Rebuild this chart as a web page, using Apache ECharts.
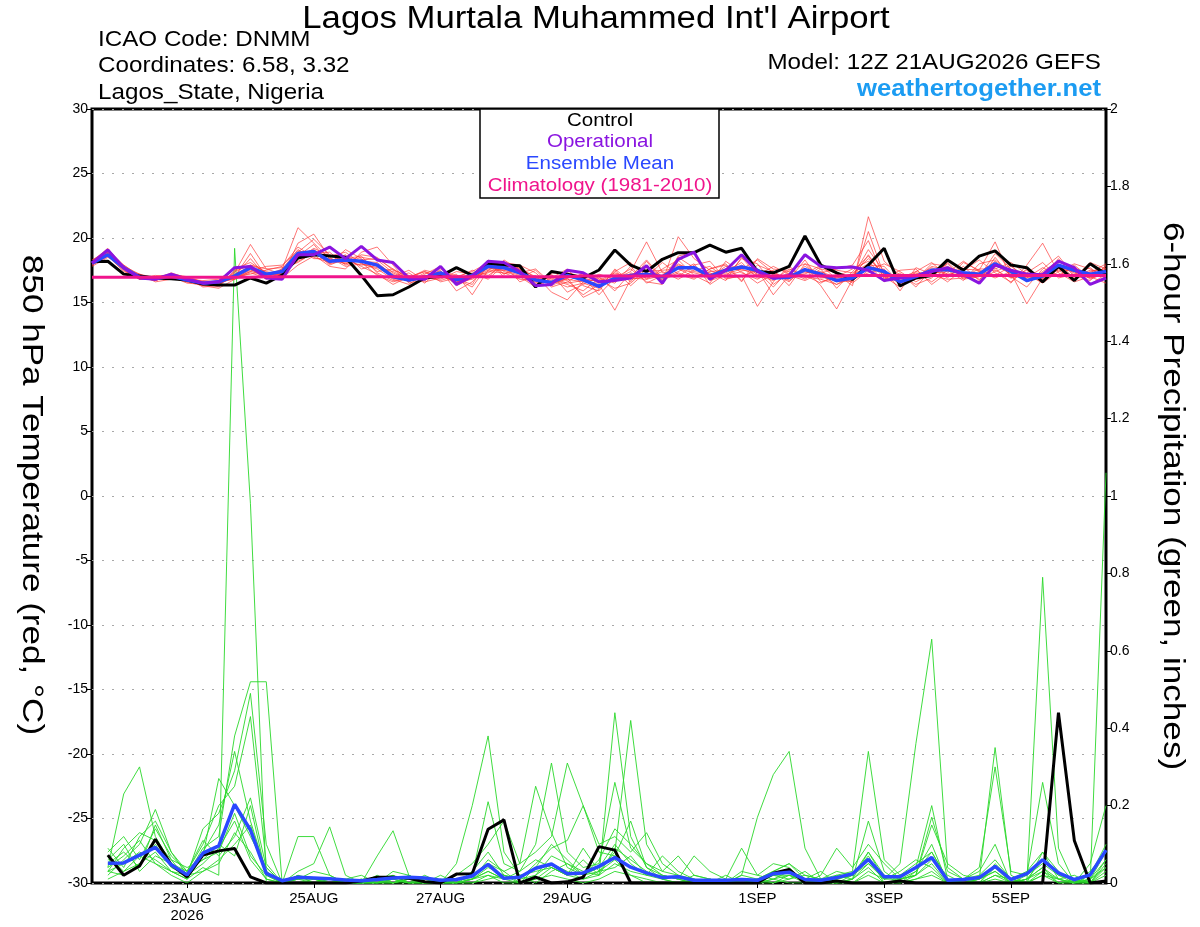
<!DOCTYPE html>
<html><head><meta charset="utf-8">
<script src="https://cdn.jsdelivr.net/npm/echarts@6/dist/echarts.min.js"></script>
<style>html,body{margin:0;padding:0;background:#fff}#c{width:1200px;height:927px}</style>
</head><body><div id="c"></div>
<script>
// x index = 6-hour steps from 12Z 21AUG2026 (0) to 12Z 6SEP2026 (64)
const xTickIdx = [6, 14, 22, 30, 42, 50, 58];
const xTickLabels = ['23AUG\n2026', '25AUG', '27AUG', '29AUG', '1SEP', '3SEP', '5SEP'];

// 850 hPa temperature (°C)
const tempControl = [18.16,18.2,17.2,17.05,16.9,16.85,16.74,16.43,16.35,16.35,
 16.9,16.5,17.13,18.45,18.7,18.6,18.5,17.1,15.53,15.6,
 16.2,16.9,17.05,17.7,17.1,18.0,17.9,17.85,16.2,17.4,
 17.2,16.9,17.52,19.07,17.9,17.4,18.35,18.86,18.86,19.45,
 18.9,19.2,17.4,17.3,17.8,20.15,17.9,17.3,16.8,17.9,
 19.2,16.28,16.9,17.1,18.3,17.5,18.6,19.0,17.9,17.7,
 16.6,17.8,16.7,18.0,17.2];
const tempOperational = [18.05,19.07,17.7,16.9,16.8,17.2,16.8,16.5,16.6,17.7,
 17.8,16.9,16.8,18.7,18.7,19.3,18.4,19.35,18.3,18.1,
 16.9,16.8,17.8,16.4,17.05,18.2,18.1,17.4,16.3,16.4,
 17.5,17.3,16.6,16.7,16.9,17.85,16.5,18.35,18.9,16.8,
 17.5,18.7,17.4,16.9,17.1,18.7,17.8,17.7,17.75,17.5,
 16.7,16.9,17.05,17.4,17.7,17.15,16.5,17.9,17.5,17.2,
 17.15,18.2,17.7,16.4,16.9];
const tempMean = [18.05,18.7,17.7,16.95,16.85,17.05,16.75,16.5,16.6,17.05,
 17.7,17.2,17.4,18.8,18.95,18.2,18.3,18.2,17.9,17.0,
 16.75,16.95,17.3,16.75,17.1,17.8,17.7,17.3,16.75,16.55,
 17.1,16.75,16.25,16.9,17.1,17.2,17.0,17.7,17.7,17.05,
 17.5,17.75,17.5,16.9,16.95,17.55,17.2,16.7,16.9,17.7,
 17.4,16.6,17.0,17.5,17.55,17.3,17.2,18.0,17.4,16.7,
 17.05,17.9,17.5,17.2,17.4];
const tempClimatology = [16.95,16.95,16.95,16.95,16.95,16.95,16.95,16.95,16.95,16.95,
 16.95,17.0,17.0,17.0,17.0,17.0,17.0,17.0,17.0,17.0,
 17.0,17.0,17.0,17.0,17.0,17.0,17.0,17.0,17.0,17.0,
 17.0,17.05,17.05,17.05,17.05,17.05,17.05,17.05,17.05,17.05,
 17.05,17.05,17.05,17.05,17.05,17.05,17.05,17.05,17.1,17.1,
 17.1,17.1,17.1,17.1,17.1,17.1,17.1,17.1,17.1,17.1,
 17.1,17.1,17.1,17.1,17.1];
const tempMember1 = [18.2,19.1,17.9,17.1,16.8,17.3,16.9,16.6, 16.4,17.3,19.5,17.6,17.2,18.4,19.2,18.6, 18.9,18.0,17.6,16.8,16.4,17.2,17.8,16.3, 16.9,18.2,17.4,17.0,16.2,16.9,17.6,16.3, 15.9,17.4,18.1,16.8,17.6,18.3,17.1,16.5, 18.2,17.3,16.8,17.5,16.3,18.0,17.6,16.1, 17.4,18.6,17.0,16.2,17.4,18.1,17.0,17.8, 16.7,18.5,17.0,16.2,17.6,18.6,17.1,16.7, 17.9];
const tempMember2 = [17.9,18.6,17.5,16.8,17.0,16.9,16.6,16.3, 16.1,16.8,17.3,16.9,17.6,20.8,19.6,18.4, 18.0,18.7,18.5,17.5,17.1,16.6,16.9,17.2, 15.6,17.5,18.1,17.9,17.3,16.2,16.6,17.3, 16.8,16.1,16.5,17.6,16.6,20.1,18.4,17.5, 17.0,18.4,18.0,16.4,17.3,17.1,16.5,17.2, 16.3,21.65,18.2,17.1,16.4,16.9,18.1,17.0, 17.6,17.6,18.1,17.2,16.5,17.4,18.0,17.6, 16.9];
const tempMember3 = [18.1,18.9,17.6,17.0,16.7,17.1,16.8,16.7, 16.8,17.6,18.1,17.3,16.9,17.9,18.6,19.3, 18.4,17.8,17.2,16.4,17.0,17.4,16.6,16.9, 17.5,17.1,17.9,16.6,17.1,15.8,15.2,16.6, 17.2,16.8,17.4,19.7,17.3,17.0,17.9,18.2, 16.8,17.1,14.7,16.6,17.8,16.9,17.8,17.5, 17.3,18.0,16.6,17.3,16.2,17.6,16.9,18.1, 17.5,19.7,16.9,17.5,16.8,18.0,16.9,18.1, 17.6];
const tempMember4 = [17.8,18.5,17.8,16.9,17.1,17.0,16.5,16.4, 16.6,16.9,17.4,17.8,17.9,19.0,18.7,17.8, 17.6,18.9,19.3,17.9,16.5,16.8,17.5,15.9, 16.6,18.0,17.2,17.8,16.5,17.1,16.7,15.6, 16.4,14.4,16.8,17.0,18.1,17.2,16.8,17.6, 18.0,16.7,17.9,17.4,16.7,17.6,16.3,14.5, 16.8,17.3,17.6,15.9,17.7,17.2,18.0,16.8, 17.0,17.7,16.5,17.9,19.6,17.3,16.6,17.0, 16.5];
const tempMember5 = [18.3,19.0,17.7,16.8,16.9,17.2,17.0,16.6, 16.5,17.1,18.4,17.0,17.5,18.6,19.5,18.0, 19.1,18.4,17.4,17.6,16.9,17.0,16.8,17.4, 17.2,16.9,18.3,17.5,16.8,16.5,17.3,17.0, 15.6,16.9,17.6,16.6,16.4,18.6,18.9,16.8, 17.4,18.1,16.9,17.1,17.0,17.2,17.9,16.8, 16.6,20.5,17.1,16.8,17.3,16.6,17.5,16.7, 18.0,18.3,17.3,14.9,16.9,17.8,17.4,16.4, 17.2];
const tempMember6 = [18.0,18.8,17.6,17.2,16.6,16.8,16.9,16.2, 16.3,17.4,17.9,17.4,17.1,18.9,19.9,18.7, 18.2,17.9,18.0,17.2,16.6,17.3,17.1,16.6, 16.8,17.7,17.5,17.1,16.4,16.7,16.2,16.5, 16.1,17.5,16.3,17.4,17.5,17.6,17.3,17.0, 17.8,17.5,17.4,16.2,17.5,18.0,16.9,17.0, 17.6,18.2,16.9,16.7,17.0,17.7,17.2,17.4, 16.8,17.4,17.9,16.6,17.4,18.2,17.6,17.3, 18.0];
const tempMember7 = [18.1,18.7,17.9,17.0,17.0,17.2,16.7,16.5, 16.7,16.8,17.6,16.8,17.3,18.2,18.8,18.9, 17.9,18.3,17.8,16.9,17.3,16.5,17.6,17.0, 17.4,18.1,17.0,16.9,17.5,16.3,16.9,17.2, 16.6,17.2,17.0,18.3,16.9,17.4,18.0,16.4, 17.2,17.6,18.3,17.3,16.6,17.8,17.1,16.4, 17.1,17.9,17.8,16.5,16.8,18.0,17.8,16.9, 17.3,18.2,17.1,16.9,17.7,17.1,17.8,16.8, 17.3];
const tempMember8 = [17.9,18.6,17.4,16.9,16.8,17.0,16.6,16.6, 16.4,17.0,17.2,17.5,17.8,19.3,18.5,18.1, 18.6,18.1,17.1,16.6,16.9,17.5,17.2,16.4, 17.0,17.3,18.0,17.6,17.0,16.8,16.4,15.9, 16.9,16.5,17.8,16.5,17.1,17.9,17.6,17.3, 16.7,18.5,17.1,17.8,17.2,17.3,17.4,16.9, 17.0,19.1,17.4,16.9,17.2,17.4,16.6,17.6, 17.5,17.1,17.8,17.0,16.9,18.4,17.0,17.5, 17.4];
const tempMember9 = [18.2,19.0,17.8,16.9,16.9,16.9,16.8,16.4, 16.6,17.2,17.8,17.1,17.4,18.7,19.1,18.3, 18.1,18.5,18.3,17.3,16.7,16.9,17.3,16.8, 16.2,17.9,17.6,17.2,16.6,16.6,17.0,16.8, 16.3,17.0,16.9,17.3,17.0,18.0,17.4,17.2, 17.6,17.8,17.6,17.0,16.9,17.5,17.0,16.7, 16.9,17.6,17.3,16.4,16.9,17.8,17.5,17.1, 17.2,18.0,17.5,16.6,17.2,17.7,17.5,17.1, 17.3];
const tempMember10 = [18.0,18.8,17.7,17.1,16.7,17.1,16.7,16.5, 16.5,16.9,17.5,17.2,17.2,18.5,18.9,18.0, 18.3,18.2,18.1,17.1,16.8,17.1,17.0,16.7, 17.1,17.6,17.8,17.4,16.9,16.5,16.8,16.6, 16.5,16.7,17.2,17.1,16.8,17.7,17.8,16.9, 17.3,17.9,17.2,16.8,17.1,17.4,17.2,16.6, 16.7,17.8,17.5,16.6,17.1,17.5,17.6,17.3, 17.1,17.9,17.2,16.9,17.0,17.9,17.3,17.2, 17.1];
const tempMember11 = [17.9,18.9,17.5,16.8,16.9,17.0,16.8,16.3, 16.7,17.1,17.7,17.3,17.0,19.6,20.3,18.5, 17.8,18.0,17.7,17.4,16.8,17.0,16.7,17.1, 16.9,17.4,17.3,16.8,16.7,17.2,15.8,16.4, 17.0,15.9,17.3,16.9,17.4,16.8,17.5,17.8, 16.9,17.0,17.5,15.6,17.1,16.7,17.3,17.6, 17.9,19.8,16.8,17.5,17.6,16.4,17.3,18.2, 17.4,16.9,17.4,17.3,18.1,16.9,17.2,17.7, 16.8];
const tempMember12 = [18.1,18.7,17.8,17.2,16.9,16.8,16.9,16.6, 16.2,17.5,17.9,17.6,17.7,18.1,18.9,18.2, 18.7,17.6,17.9,17.0,17.5,16.7,17.4,16.5, 17.3,16.8,17.9,17.3,17.6,16.5,16.9,15.4, 16.0,17.6,16.6,18.2,16.7,17.3,16.9,17.6, 17.9,16.6,18.4,17.6,17.4,16.8,17.6,17.3, 16.5,17.5,18.0,17.4,16.6,17.3,17.4,17.5, 18.3,17.3,16.6,17.6,17.0,17.5,16.8,17.4, 17.6];
const tempMember13 = [18.0,18.8,17.6,16.9,16.7,17.2,16.6,16.5, 16.5,17.0,18.8,17.0,17.3,18.8,19.0,17.9, 18.4,18.6,17.3,16.7,16.9,17.4,17.0,16.8, 16.4,18.3,17.2,17.6,16.3,17.3,17.2,16.9, 16.6,16.9,17.1,17.5,16.9,18.5,17.7,16.7, 17.1,17.4,16.5,17.2,16.8,18.3,16.6,16.9, 17.2,18.4,17.2,16.9,17.4,17.1,16.8,16.9, 17.0,18.8,17.6,16.7,17.3,17.0,17.9,16.9, 17.8];
const tempMember14 = [18.2,19.2,17.7,17.0,16.8,17.1,16.9,16.4, 16.6,16.8,17.4,17.1,17.6,19.1,18.4,18.4, 18.0,18.3,18.4,17.6,16.6,17.1,17.1,16.6, 17.0,17.5,17.5,17.7,16.9,16.9,16.5,16.7, 16.7,17.3,16.9,16.8,17.1,17.6,17.0,17.4, 17.5,17.6,17.1,16.7,17.6,17.0,16.8,16.4, 16.9,18.7,17.0,16.7,16.9,17.6,17.1,17.0, 17.4,17.5,16.9,17.1,16.6,17.6,17.4,16.9, 17.2];

// 6-hour precipitation (inches); index 0 has no accumulation
const precipControl = [null,0.072,0.02,0.044,0.113,0.047,0.016,0.072,0.083,0.089,
 0.016,0,0,0,0,0,0,0.005,0.015,0.015,
 0.012,0.003,0,0.023,0.024,0.139,0.163,0,0.015,0,
 0.003,0.015,0.094,0.085,0,0,0,0,0,0,
 0,0,0,0.025,0.035,0,0,0.005,0,0,
 0,0.005,0,0,0,0,0,0,0,0,
 0,0.44,0.11,0,0.005];
const precipMean = [null,0.051,0.052,0.072,0.092,0.047,0.021,0.077,0.096,0.203,
 0.137,0.025,0.006,0.015,0.013,0.011,0.008,0.006,0.009,0.013,
 0.015,0.013,0.007,0.009,0.018,0.048,0.012,0.015,0.038,0.049,
 0.024,0.026,0.043,0.066,0.041,0.026,0.014,0.016,0.007,0.007,
 0.007,0.009,0.007,0.024,0.028,0.009,0.007,0.014,0.024,0.061,
 0.016,0.016,0.040,0.066,0.007,0.009,0.014,0.043,0.009,0.024,
 0.060,0.026,0.009,0.021,0.085];
const precipMember1 = [null,0.03,0.05,0.08,0.06,0.03,0.01,0.04, 0.02,1.64,0.98,0.00,0.00,0.01,0.00,0.00, 0.00,0.00,0.01,0.02,0.00,0.00,0.00,0.01, 0.02,0.05,0.03,0.00,0.01,0.04,0.02,0.01, 0.03,0.06,0.02,0.01,0.00,0.00,0.01,0.00, 0.00,0.02,0.01,0.03,0.05,0.01,0.00,0.01, 0.02,0.06,0.01,0.02,0.05,0.08,0.01,0.00, 0.01,0.04,0.00,0.02,0.05,0.02,0.00,0.03, 0.08];
const precipMember2 = [null,0.07,0.03,0.05,0.10,0.04,0.02,0.09, 0.12,0.38,0.52,0.52,0.00,0.02,0.01,0.00, 0.00,0.01,0.00,0.03,0.02,0.00,0.01,0.00, 0.03,0.08,0.02,0.00,0.04,0.10,0.06,0.02, 0.04,0.10,0.05,0.02,0.01,0.00,0.00,0.01, 0.00,0.01,0.00,0.02,0.03,0.00,0.01,0.02, 0.01,0.08,0.02,0.01,0.03,0.10,0.00,0.01, 0.02,0.06,0.01,0.03,0.08,0.01,0.00,0.02, 0.10];
const precipMember3 = [null,0.04,0.23,0.30,0.12,0.05,0.02,0.14, 0.18,0.29,0.49,0.10,0.00,0.00,0.00,0.01, 0.00,0.00,0.02,0.00,0.01,0.01,0.00,0.00, 0.01,0.03,0.01,0.00,0.02,0.05,0.03,0.01, 0.02,0.44,0.12,0.04,0.02,0.01,0.00,0.00, 0.00,0.00,0.01,0.02,0.02,0.01,0.00,0.00, 0.01,0.16,0.03,0.00,0.02,0.05,0.00,0.00, 0.01,0.03,0.00,0.01,0.04,0.01,0.00,0.01, 0.06];
const precipMember4 = [null,0.02,0.06,0.10,0.19,0.08,0.03,0.10, 0.20,0.25,0.43,0.05,0.00,0.02,0.00,0.00, 0.00,0.00,0.00,0.01,0.00,0.02,0.00,0.05, 0.20,0.38,0.08,0.02,0.00,0.03,0.05,0.02, 0.03,0.08,0.42,0.10,0.03,0.02,0.00,0.01, 0.00,0.02,0.17,0.28,0.34,0.09,0.01,0.00, 0.02,0.05,0.01,0.03,0.06,0.04,0.00,0.01, 0.03,0.10,0.00,0.01,0.06,0.02,0.01,0.00, 0.05];
const precipMember5 = [null,0.05,0.08,0.04,0.15,0.06,0.01,0.07, 0.27,0.20,0.12,0.04,0.00,0.12,0.12,0.02, 0.00,0.00,0.07,0.135,0.02,0.00,0.00,0.00, 0.02,0.21,0.05,0.03,0.10,0.31,0.08,0.04, 0.05,0.26,0.09,0.05,0.02,0.01,0.07,0.03, 0.01,0.09,0.02,0.01,0.03,0.00,0.00,0.02, 0.03,0.34,0.06,0.02,0.04,0.20,0.01,0.00, 0.00,0.05,0.01,0.00,0.79,0.09,0.00,0.01, 0.08];
const precipMember6 = [null,0.01,0.03,0.07,0.05,0.02,0.00,0.03, 0.06,0.10,0.15,0.03,0.00,0.03,0.05,0.145, 0.02,0.00,0.00,0.01,0.00,0.00,0.01,0.00, 0.01,0.06,0.03,0.05,0.08,0.12,0.31,0.20, 0.10,0.12,0.08,0.13,0.05,0.02,0.01,0.00, 0.01,0.00,0.00,0.01,0.02,0.00,0.00,0.01, 0.02,0.08,0.01,0.05,0.36,0.63,0.04,0.01, 0.00,0.02,0.01,0.00,0.03,0.01,0.02,0.00, 0.04];
const precipMember7 = [null,0.03,0.02,0.05,0.08,0.03,0.02,0.05, 0.09,0.16,0.06,0.01,0.00,0.00,0.01,0.00, 0.01,0.02,0.00,0.00,0.01,0.00,0.00,0.02, 0.05,0.10,0.16,0.05,0.25,0.13,0.04,0.02, 0.06,0.14,0.10,0.05,0.03,0.07,0.02,0.01, 0.00,0.03,0.02,0.05,0.04,0.00,0.02,0.09, 0.04,0.10,0.05,0.01,0.02,0.15,0.05,0.02, 0.01,0.35,0.02,0.00,0.08,0.03,0.00,0.00, 1.06];
const precipMember8 = [null,0.06,0.10,0.03,0.07,0.05,0.03,0.06, 0.10,0.07,0.20,0.02,0.00,0.00,0.00,0.01, 0.00,0.00,0.00,0.02,0.00,0.00,0.00,0.01, 0.01,0.04,0.02,0.01,0.05,0.09,0.11,0.20, 0.08,0.07,0.16,0.04,0.01,0.00,0.02,0.01, 0.00,0.00,0.01,0.03,0.05,0.02,0.01,0.03, 0.02,0.07,0.00,0.01,0.02,0.17,0.03,0.01, 0.04,0.30,0.03,0.02,0.26,0.05,0.00,0.05, 0.20];
const precipMember9 = [null,0.09,0.04,0.12,0.16,0.08,0.02,0.03, 0.05,0.13,0.08,0.01,0.00,0.01,0.03,0.02, 0.00,0.00,0.01,0.00,0.00,0.01,0.00,0.00, 0.00,0.02,0.00,0.00,0.01,0.02,0.01,0.00, 0.01,0.03,0.02,0.00,0.00,0.00,0.00,0.00, 0.00,0.00,0.00,0.01,0.00,0.00,0.00,0.00, 0.00,0.02,0.00,0.00,0.01,0.02,0.00,0.00, 0.00,0.01,0.00,0.00,0.02,0.00,0.00,0.00, 0.02];
const precipMember10 = [null,0.04,0.07,0.11,0.05,0.03,0.01,0.08, 0.15,0.34,0.16,0.03,0.00,0.00,0.00,0.00, 0.00,0.01,0.00,0.00,0.02,0.00,0.00,0.00, 0.01,0.03,0.01,0.02,0.03,0.04,0.02,0.06, 0.02,0.05,0.03,0.02,0.07,0.03,0.01,0.00, 0.00,0.01,0.00,0.00,0.01,0.03,0.00,0.00, 0.01,0.04,0.00,0.00,0.01,0.03,0.00,0.00, 0.00,0.02,0.00,0.01,0.03,0.00,0.00,0.01, 0.04];
const precipMember11 = [null,0.08,0.12,0.06,0.14,0.07,0.03,0.11, 0.07,0.12,0.22,0.04,0.00,0.01,0.01,0.00, 0.00,0.00,0.00,0.00,0.01,0.00,0.00,0.00, 0.00,0.01,0.02,0.01,0.02,0.07,0.05,0.03, 0.02,0.09,0.06,0.03,0.01,0.02,0.00,0.00, 0.00,0.01,0.00,0.02,0.01,0.02,0.01,0.00, 0.01,0.05,0.02,0.00,0.03,0.08,0.01,0.00, 0.00,0.04,0.01,0.00,0.02,0.01,0.00,0.00, 0.06];
const precipMember12 = [null,0.03,0.09,0.13,0.11,0.06,0.04,0.06, 0.08,0.18,0.07,0.02,0.00,0.00,0.00,0.00, 0.01,0.00,0.00,0.01,0.00,0.00,0.02,0.00, 0.01,0.02,0.01,0.03,0.06,0.04,0.02,0.09, 0.03,0.04,0.07,0.02,0.02,0.01,0.00,0.00, 0.02,0.00,0.01,0.00,0.02,0.01,0.03,0.00, 0.00,0.03,0.01,0.01,0.02,0.06,0.02,0.00, 0.01,0.03,0.00,0.01,0.04,0.00,0.01,0.00, 0.03];

const tempMembers = [tempMember1,tempMember2,tempMember3,tempMember4,tempMember5,tempMember6,tempMember7,
  tempMember8,tempMember9,tempMember10,tempMember11,tempMember12,tempMember13,tempMember14];
const precipMembers = [precipMember1,precipMember2,precipMember3,precipMember4,precipMember5,precipMember6,
  precipMember7,precipMember8,precipMember9,precipMember10,precipMember11,precipMember12];

const FONT = '"Liberation Sans", Arial, Helvetica, sans-serif';
const C_CONTROL = '#000000', C_OPER = '#8a14e0', C_MEAN = '#2a48ff', C_CLIM = '#f0148c';
const C_MEMBER_T = 'rgba(255,50,50,0.75)', C_MEMBER_P = '#2ad82a';

function pts(arr) { return arr.map((v, i) => [i, v]).filter(p => p[1] !== null); }
function line(name, arr, yIdx, color, width, z) {
  return { name, type: 'line', yAxisIndex: yIdx, data: pts(arr), symbol: 'none', showSymbol: false,
    lineStyle: { color, width }, itemStyle: { color }, z, silent: true, animation: false,
    emphasis: { disabled: true } };
}

const series = [];
precipMembers.forEach((m, k) => series.push(line('precip member ' + (k + 1), m, 1, C_MEMBER_P, 0.9, 2)));
tempMembers.forEach((m, k) => series.push(line('temp member ' + (k + 1), m, 0, C_MEMBER_T, 0.9, 2)));
series.push(line('Control precip', precipControl, 1, C_CONTROL, 3, 5));
series.push(line('Ensemble Mean precip', precipMean, 1, C_MEAN, 3.5, 6));
series.push(line('Control', tempControl, 0, C_CONTROL, 3, 5));
series.push(line('Ensemble Mean', tempMean, 0, C_MEAN, 3.5, 6));
series.push(line('Operational', tempOperational, 0, C_OPER, 3, 7));
series.push(line('Climatology (1981-2010)', tempClimatology, 0, C_CLIM, 3, 8));

function txt(text, x, y, size, opts) {
  opts = opts || {};
  return { type: 'text', x, y, z: 120, rotation: opts.rotation || 0, scaleX: opts.scaleX || 1,
    style: { text, fontSize: size, fontFamily: FONT, fontWeight: opts.bold ? 'bold' : 'normal',
      fill: opts.color || '#000', align: opts.align || 'left', verticalAlign: 'middle' } };
}

const option = {
  animation: false,
  backgroundColor: '#ffffff',
  grid: { left: 92, right: 94, top: 109, bottom: 44, show: true, borderColor: '#000', borderWidth: 3,
    backgroundColor: 'transparent', containLabel: false, outerBoundsMode: 'none' },
  xAxis: {
    type: 'value', min: 0, max: 64, position: 'bottom',
    axisLine: { show: false, onZero: false }, splitLine: { show: false },
    axisTick: { show: true, customValues: xTickIdx, length: 5, lineStyle: { color: '#000', width: 1 } },
    axisLabel: { customValues: xTickIdx, formatter: v => xTickLabels[xTickIdx.indexOf(v)],
      color: '#000', fontSize: 15, fontFamily: FONT, margin: 7, lineHeight: 17 }
  },
  yAxis: [
    { type: 'value', min: -30, max: 30, interval: 5, position: 'left',
      axisLine: { show: false, onZero: false },
      axisTick: { show: true, length: 6, lineStyle: { color: '#000', width: 1 } },
      axisLabel: { color: '#000', fontSize: 14, fontFamily: FONT, margin: 4 },
      splitLine: { show: true, lineStyle: { color: '#a8a8a8', width: 1.2, type: [2, 8] } } },
    { type: 'value', min: 0, max: 2, interval: 0.2, position: 'right',
      axisLine: { show: false, onZero: false },
      axisTick: { show: true, length: 5, lineStyle: { color: '#000', width: 1 } },
      axisLabel: { color: '#000', fontSize: 14, fontFamily: FONT, margin: 4 },
      splitLine: { show: false } }
  ],
  series,
  graphic: [
    txt("Lagos Murtala Muhammed Int'l Airport", 596, 19, 31, { align: 'center', scaleX: 1.12 }),
    txt('ICAO Code: DNMM', 98, 40, 22, { scaleX: 1.1 }),
    txt('Coordinates: 6.58, 3.32', 98, 66, 22, { scaleX: 1.1 }),
    txt('Lagos_State, Nigeria', 98, 93, 22, { scaleX: 1.1 }),
    txt('Model: 12Z 21AUG2026 GEFS', 1101, 63, 22, { align: 'right', scaleX: 1.1 }),
    txt('weathertogether.net', 1101, 89, 24, { align: 'right', scaleX: 1.07, bold: true, color: '#1c9cf2' }),
    { type: 'rect', z: 110, shape: { x: 480, y: 109, width: 239, height: 89 },
      style: { fill: '#ffffff', stroke: '#000', lineWidth: 1.5 } },
    txt('Control', 600, 121, 18, { align: 'center', scaleX: 1.14, color: C_CONTROL }),
    txt('Operational', 600, 142, 18, { align: 'center', scaleX: 1.14, color: C_OPER }),
    txt('Ensemble Mean', 600, 164, 18, { align: 'center', scaleX: 1.14, color: C_MEAN }),
    txt('Climatology (1981-2010)', 600, 186, 18, { align: 'center', scaleX: 1.14, color: C_CLIM }),
    txt('850 hPa Temperature (red, °C)', 31, 495, 30, { align: 'center', scaleX: 1.17, rotation: -Math.PI / 2 }),
    txt('6-hour Precipitation (green, inches)', 1172, 496, 30, { align: 'center', scaleX: 1.17, rotation: -Math.PI / 2 })
  ]
};

const chart = echarts.init(document.getElementById('c'), null, { renderer: 'canvas' });
chart.setOption(option);
</script>
</body></html>
